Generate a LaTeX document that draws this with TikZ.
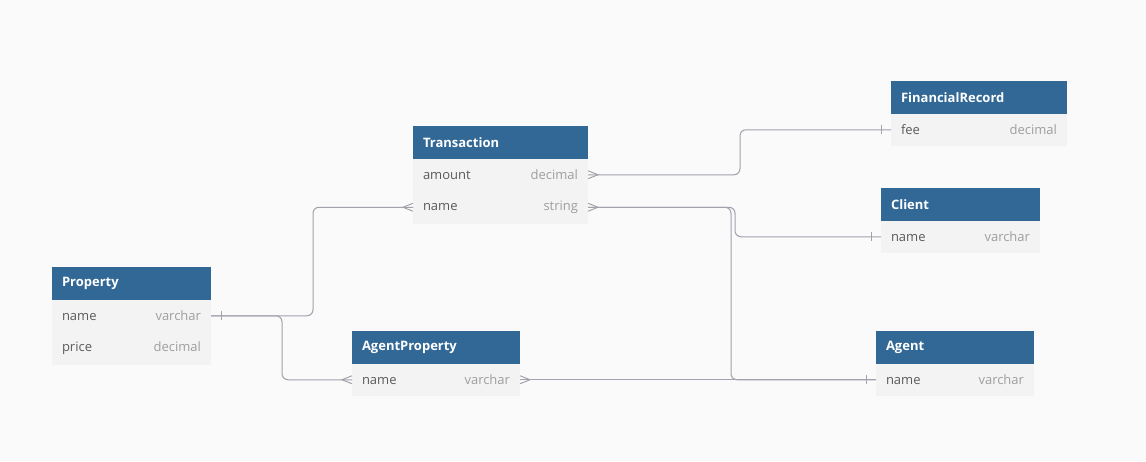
\documentclass[tikz,border=0pt]{standalone}
\usepackage{fontspec}
\setmainfont{Open Sans}
\usetikzlibrary{positioning}
\definecolor{HeaderBlue}{HTML}{316896}
\definecolor{RowGray}{HTML}{F3F3F3}
\definecolor{CanvasGray}{HTML}{FAFAFA}
\definecolor{LineGray}{HTML}{A2A2AC}
\definecolor{FieldText}{HTML}{5A5A5A}
\definecolor{TypeText}{HTML}{9E9E9E}
\newcommand{\fieldrow}[2]{#1\hfill\textcolor{TypeText}{#2}}

\begin{document}
\begin{tikzpicture}[x=1pt, y=-1pt,
    every node/.style={font=\fontsize{13}{16}\selectfont, inner xsep=10pt, inner ysep=0pt, outer sep=0pt, minimum height=32.5pt},
    header/.style={fill=HeaderBlue, text=white, font=\fontsize{13}{16}\selectfont\bfseries, text width=#1},
    field/.style={fill=RowGray, text=FieldText, text width=#1},
    conn/.style={draw=LineGray, line width=1pt},
    crowR/.pic={\draw[conn] (0,-4) -- (10,0) -- (0,4);},
    crowL/.pic={\draw[conn] (0,-4) -- (-10,0) -- (0,4);},
    barR/.pic={\draw[conn] (10,-4.5) -- (10,4.5);},
    barL/.pic={\draw[conn] (-10,-4.5) -- (-10,4.5);}]
    \fill[CanvasGray] (0,0) rectangle (1146,461);

    % Tables
    \node[header=155, anchor=north west] (tr) at (413,126) {Transaction};
    \node[field=155, below=0pt of tr] (tr-amount) {\fieldrow{amount}{decimal}};
    \node[field=155, below=0pt of tr-amount] (tr-name) {\fieldrow{name}{string}};

    \node[header=156, anchor=north west] (fr) at (891,81) {FinancialRecord};
    \node[field=156, below=0pt of fr] (fr-fee) {\fieldrow{fee}{decimal}};

    \node[header=139, anchor=north west] (cl) at (881,188) {Client};
    \node[field=139, below=0pt of cl] (cl-name) {\fieldrow{name}{varchar}};

    \node[header=139, anchor=north west] (pr) at (52,267) {Property};
    \node[field=139, below=0pt of pr] (pr-name) {\fieldrow{name}{varchar}};
    \node[field=139, below=0pt of pr-name] (pr-price) {\fieldrow{price}{decimal}};

    \node[header=148, anchor=north west] (ap) at (352,331) {AgentProperty};
    \node[field=148, below=0pt of ap] (ap-name) {\fieldrow{name}{varchar}};

    \node[header=138, anchor=north west] (ag) at (876,331) {Agent};
    \node[field=138, below=0pt of ag] (ag-name) {\fieldrow{name}{varchar}};

    % Bends
    \coordinate (j-fr) at (740,0);
    \coordinate (j-cl) at (735,0);
    \coordinate (j-ag) at (731,0);
    \coordinate (j-tr) at (313,0);
    \coordinate (j-ap) at (282,0);

    % Lines
    \draw[conn, rounded corners=6pt] (tr-amount.east) -- (tr-amount.east -| j-fr) |- (fr-fee.west);
    \draw[conn, rounded corners=6pt] (tr-name.east) -- (tr-name.east -| j-cl) |- (cl-name.west);
    \draw[conn, rounded corners=6pt] (tr-name.east) -- (tr-name.east -| j-ag) |- (ag-name.west);
    \draw[conn, rounded corners=6pt] (pr-name.east) -- (pr-name.east -| j-tr) |- (tr-name.west);
    \draw[conn, rounded corners=6pt] (pr-name.east) -- (pr-name.east -| j-ap) |- (ap-name.west);
    \draw[conn] (ap-name.east) -- (ag-name.west);

    % Ends
    \pic at (tr-amount.east) {crowR};
    \pic at (tr-name.east) {crowR};
    \pic at (tr-name.west) {crowL};
    \pic at (ap-name.west) {crowL};
    \pic at (ap-name.east) {crowR};
    \pic at (pr-name.east) {barR};
    \pic at (fr-fee.west) {barL};
    \pic at (cl-name.west) {barL};
    \pic at (ag-name.west) {barL};
\end{tikzpicture}
\end{document}
